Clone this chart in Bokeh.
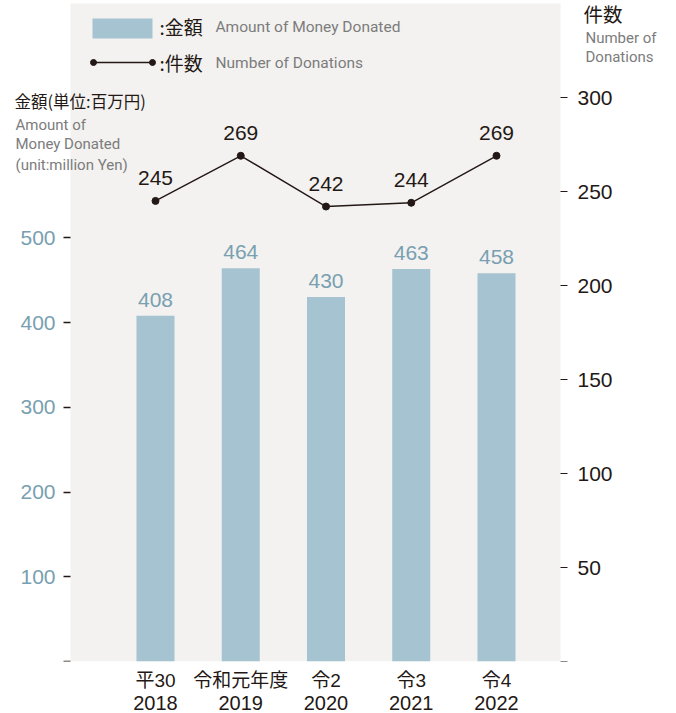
from bokeh.plotting import figure
from bokeh.models import Range1d, LinearAxis, FixedTicker, Label, BoxAnnotation, ColumnDataSource
from bokeh.core.properties import value
from bokeh.embed import file_html
from bokeh.resources import INLINE

# ---- data ----
era_labels = ["平30", "令和元年度", "令2", "令3", "令4"]
year_labels = ["2018", "2019", "2020", "2021", "2022"]
amount = [408, 464, 430, 463, 458]        # 金額 (million Yen)
count = [245, 269, 242, 244, 269]         # 件数
amount_ticks = [0, 100, 200, 300, 400, 500]
count_ticks = [0, 50, 100, 150, 200, 250, 300]

# ---- style ----
BG = "#f3f2f0"
BAR = "#a5c3d0"
BLUE_TXT = "#78a0b0"
DARK = "#231815"
GRAY = "#7c7c7c"
NUM_FONT = "'Liberation Sans', 'Noto Sans CJK JP'"
JP_FONT = "'Noto Sans CJK JP'"
EN_FONT = "Roboto"

W, H = 676, 713
FRAME_BOTTOM = 661
X_PX = 85.25          # px per category step
X_ORIGIN = 155        # px of first category
X0, X1 = -X_ORIGIN / X_PX, (W - X_ORIGIN) / X_PX
Y_PX = 0.8475         # px per million yen
C_PX = 1.88           # px per donation
Y_MAX = FRAME_BOTTOM / Y_PX
C_MAX = FRAME_BOTTOM / C_PX

def ax(px):
    return (px - X_ORIGIN) / X_PX

def ay(py):
    return (FRAME_BOTTOM - py) / Y_PX

idx = list(range(len(amount)))
src = ColumnDataSource(dict(
    x=idx, amount=amount, count=count,
    amount_txt=[str(v) for v in amount],
    count_txt=[str(v) for v in count],
))

p = figure(width=W, height=H, output_backend="svg", toolbar_location=None,
           x_range=Range1d(X0, X1), y_range=Range1d(0, Y_MAX),
           min_border_left=0, min_border_right=0, min_border_top=0,
           min_border_bottom=H - FRAME_BOTTOM)
p.extra_y_ranges = {"count": Range1d(0, C_MAX)}
p.background_fill_color = "white"
p.border_fill_color = "white"
p.outline_line_color = None
p.grid.visible = False

# gray panel
p.add_layout(BoxAnnotation(left=ax(70), right=ax(560), top=ay(3), fill_color=BG,
                           fill_alpha=1, line_color=None, level="underlay"))

# bars
p.vbar(x="x", top="amount", width=0.446, source=src, fill_color=BAR, line_color=None)
p.text(x="x", y="amount", text="amount_txt", source=src, text_align="center",
       text_baseline="alphabetic", y_offset=-16, text_color=BLUE_TXT,
       text_font=value(NUM_FONT), text_font_size="21px")

# line
p.line(x="x", y="count", source=src, y_range_name="count", line_color=DARK, line_width=1.4)
p.scatter(x="x", y="count", source=src, y_range_name="count", size=7,
          fill_color=DARK, line_color=DARK)
p.text(x="x", y="count", text="count_txt", source=src, y_range_name="count",
       text_align="center", text_baseline="alphabetic", y_offset=-23, text_color=DARK,
       text_font=value(NUM_FONT), text_font_size="21px")

# axes
def style_axis(a, color, size):
    a.axis_line_color = None
    a.minor_tick_line_color = None
    a.major_tick_in = 0
    a.major_tick_line_color = DARK
    a.major_tick_line_width = 1.3
    a.major_label_text_color = color
    a.major_label_text_font = NUM_FONT
    a.major_label_text_font_size = size

ly = p.yaxis[0]
ly.ticker = FixedTicker(ticks=amount_ticks)
ly.major_label_overrides = {0: ""}
ly.fixed_location = ax(70)
style_axis(ly, BLUE_TXT, "21px")
ly.major_tick_out = 7
ly.major_label_standoff = 8

ry = LinearAxis(y_range_name="count", ticker=FixedTicker(ticks=count_ticks))
ry.major_label_overrides = {0: ""}
ry.fixed_location = ax(560)
style_axis(ry, DARK, "21px")
ry.major_tick_out = 7
ry.major_tick_line_width = 1.0
ry.major_label_standoff = 10
p.add_layout(ry, "right")

xa = p.xaxis[0]
xa.ticker = FixedTicker(ticks=idx)
xa.major_label_overrides = {i: e for i, e in zip(idx, era_labels)}
style_axis(xa, DARK, "19px")
xa.major_tick_out = 0
xa.major_tick_line_color = None
xa.major_label_standoff = 8

xb = LinearAxis(ticker=FixedTicker(ticks=idx))
xb.major_label_overrides = {i: y for i, y in zip(idx, year_labels)}
style_axis(xb, DARK, "20px")
xb.major_tick_out = 0
xb.major_tick_line_color = None
xb.major_label_standoff = 2
p.add_layout(xb, "below")

# legend (drawn by hand)
p.add_layout(BoxAnnotation(left=ax(92), right=ax(152), top=ay(18), bottom=ay(38),
                           fill_color=BAR, fill_alpha=1, line_color=None))
p.segment(x0=[ax(93)], y0=[ay(62)], x1=[ax(152)], y1=[ay(62)], line_color=DARK, line_width=1.4)
p.scatter(x=[ax(93), ax(152)], y=[ay(62), ay(62)], size=6, fill_color=DARK, line_color=DARK)

def lab(x, y, text, color, font, size):
    p.add_layout(Label(x=ax(x), y=ay(y), text=text, text_color=color, text_font=font,
                       text_font_size=size, text_baseline="middle", text_align="left"))

lab(159, 26, ":金額", DARK, JP_FONT, "19px")
lab(215, 26, "Amount of Money Donated", GRAY, EN_FONT, "15.5px")
lab(159, 62, ":件数", DARK, JP_FONT, "19px")
lab(215, 62, "Number of Donations", GRAY, EN_FONT, "15.5px")

# axis titles
lab(14, 100, "金額(単位:百万円)", DARK, JP_FONT, "16.5px")
lab(15, 124, "Amount of", GRAY, EN_FONT, "15px")
lab(15, 143, "Money Donated", GRAY, EN_FONT, "15px")
lab(15, 164, "(unit:million Yen)", GRAY, EN_FONT, "15px")
lab(583, 13, "件数", DARK, JP_FONT, "19.5px")
lab(585, 37, "Number of", GRAY, EN_FONT, "15px")
lab(585, 56, "Donations", GRAY, EN_FONT, "15px")

open("out.html", "w").write(file_html(p, INLINE))
